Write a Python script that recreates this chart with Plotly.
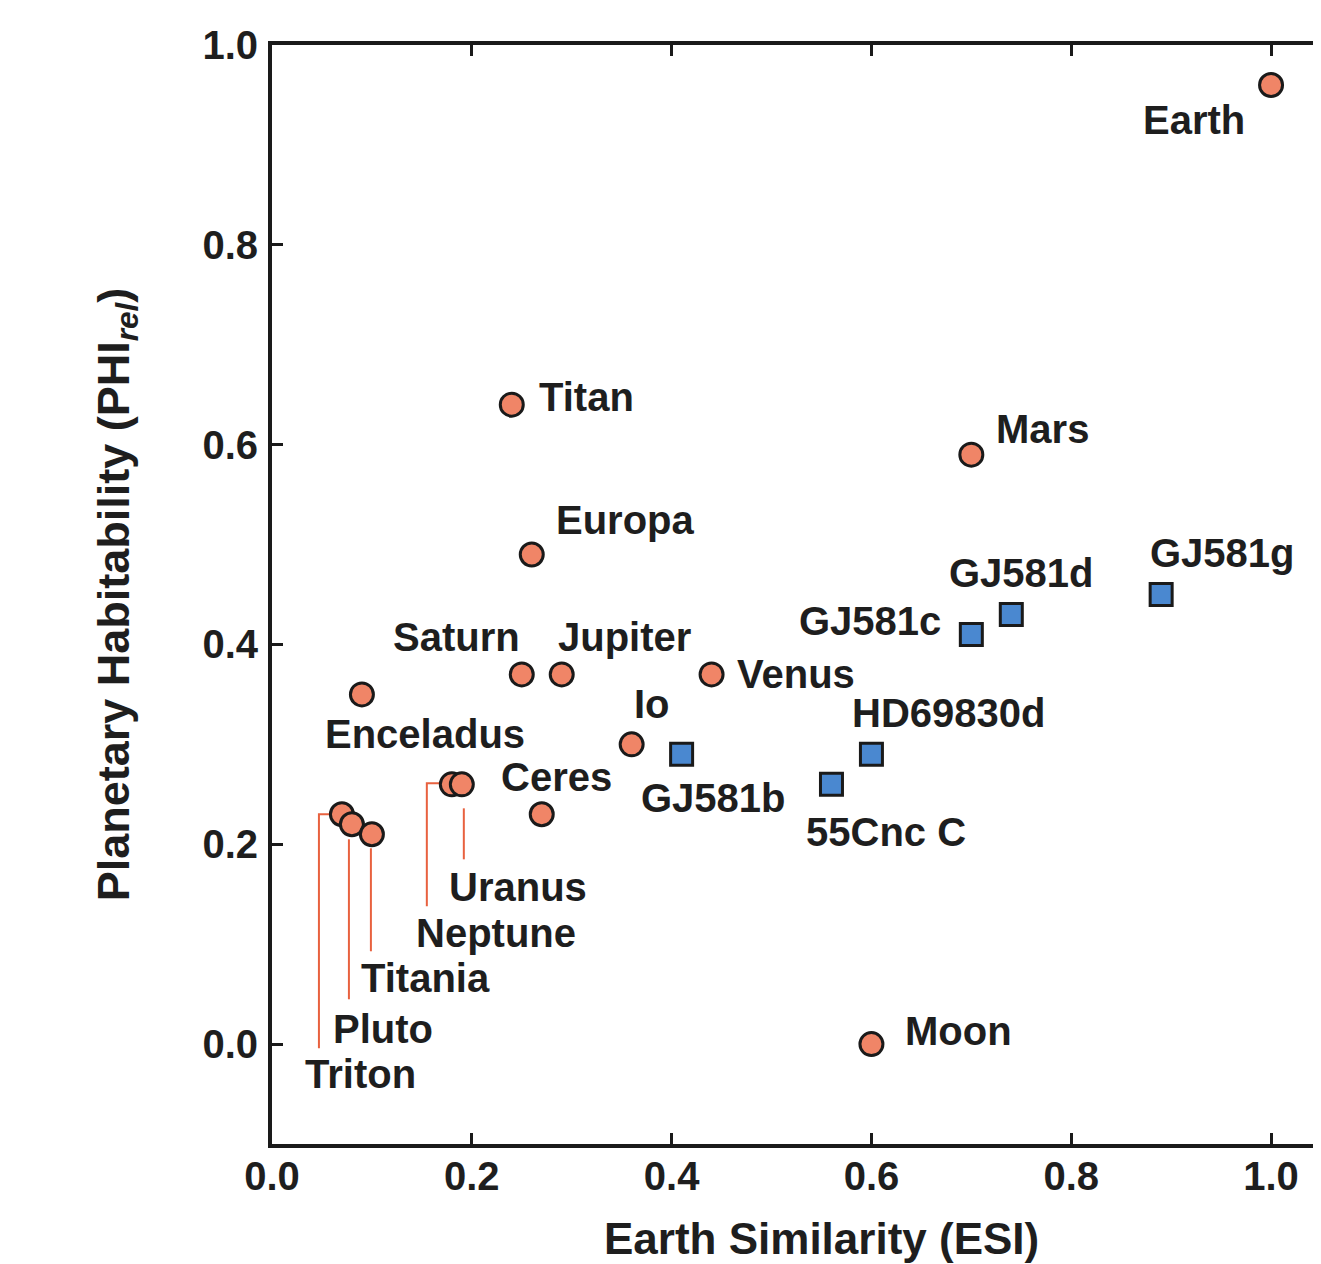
import plotly.graph_objects as go

# ---------------- data ----------------
sol_names = ["Earth", "Titan", "Europa", "Mars", "Saturn", "Jupiter", "Venus",
             "Enceladus", "Io", "Ceres", "Neptune", "Uranus", "Triton", "Pluto",
             "Titania", "Moon"]
sol_esi = [1.00, 0.24, 0.26, 0.70, 0.25, 0.29, 0.44, 0.09, 0.36, 0.27, 0.18, 0.19,
           0.07, 0.08, 0.10, 0.60]
sol_phi = [0.96, 0.64, 0.49, 0.59, 0.37, 0.37, 0.37, 0.35, 0.30, 0.23, 0.26, 0.26,
           0.23, 0.22, 0.21, 0.00]

exo_names = ["GJ581g", "GJ581d", "GJ581c", "HD69830d", "55Cnc C", "GJ581b"]
exo_esi = [0.89, 0.74, 0.70, 0.60, 0.56, 0.41]
exo_phi = [0.45, 0.43, 0.41, 0.29, 0.26, 0.29]

x_ticks = [0.0, 0.2, 0.4, 0.6, 0.8, 1.0]
y_ticks = [0.0, 0.2, 0.4, 0.6, 0.8, 1.0]

# ---------------- label styling (anchor, pixel shifts) ----------------
label_style = {
    "Earth": ("right", -24, -35),
    "Titan": ("left", 25, 8),
    "Europa": ("left", 22, 35),
    "Mars": ("left", 23, 26),
    "Saturn": ("right", 0, 37),
    "Jupiter": ("left", -6, 37),
    "Venus": ("left", 23, 0),
    "Enceladus": ("left", -39, -40),
    "Io": ("center", 20, 40),
    "Ceres": ("left", -43, 37),
    "Neptune": ("left", -38, -149),
    "Uranus": ("left", -15, -103),
    "Triton": ("left", -39, -260),
    "Pluto": ("left", -21, -205),
    "Titania": ("left", -13, -144),
    "Moon": ("left", 32, 13),
    "GJ581g": ("center", 61, 42),
    "GJ581d": ("center", 10, 41),
    "GJ581c": ("right", -28, 13),
    "HD69830d": ("center", 77, 41),
    "55Cnc C": ("center", 55, -48),
    "GJ581b": ("center", 32, -44),
}

# leader lines, pixel paths relative to the point (y up)
leader_paths = {
    "Triton": "M -11,0 L -23,0 L -23,-234",
    "Pluto": "M -3,-15 L -3,-175",
    "Titania": "M -1,-14 L -1,-117",
    "Neptune": "M -12,1 L -25,1 L -25,-122",
    "Uranus": "M 2,-24 L 2,-75",
}

FONT = "Liberation Sans, Arial, sans-serif"
TXT = "#1e1e1e"
AX = "#1a1a1a"

fig = go.Figure()
fig.add_trace(go.Scatter(
    x=sol_esi, y=sol_phi, mode="markers", name="Solar System",
    marker=dict(symbol="circle", size=23, color="#F08567",
                line=dict(color="#1a1a1a", width=3)),
    cliponaxis=False, showlegend=False))
fig.add_trace(go.Scatter(
    x=exo_esi, y=exo_phi, mode="markers", name="Exoplanets",
    marker=dict(symbol="square", size=22, color="#4A88D0",
                line=dict(color="#1a1a1a", width=3)),
    cliponaxis=False, showlegend=False))

all_names = sol_names + exo_names
all_x = sol_esi + exo_esi
all_y = sol_phi + exo_phi
for n, xv, yv in zip(all_names, all_x, all_y):
    anc, dx, dy = label_style[n]
    fig.add_annotation(x=xv, y=yv, xref="x", yref="y", text=n, showarrow=False,
                       xanchor=anc, yanchor="middle", xshift=dx, yshift=dy,
                       font=dict(family=FONT, size=40, color=TXT, weight="bold"))
    if n in leader_paths:
        fig.add_shape(type="path", xref="x", yref="y", xsizemode="pixel",
                      ysizemode="pixel", xanchor=xv, yanchor=yv,
                      path=leader_paths[n],
                      line=dict(color="#E8613F", width=2), layer="below")

fig.add_annotation(x=0.55, y=0, xref="x", yref="paper", yanchor="top",
                   yshift=-68, showarrow=False, text="Earth Similarity (ESI)",
                   font=dict(family=FONT, size=44, color=TXT, weight="bold"))

fig.update_layout(
    width=1313, height=1256,
    margin=dict(l=264, r=0, t=37, b=120),
    plot_bgcolor="white", paper_bgcolor="white",
    font=dict(family=FONT, color=TXT, weight="bold"),
    xaxis=dict(range=[0, 1.05], tickvals=x_ticks,
               ticktext=[f"{v:.1f}" for v in x_ticks],
               showgrid=False, zeroline=False, showline=True, linewidth=4,
               linecolor=AX, mirror="ticks", ticks="inside", ticklen=11,
               tickwidth=3, tickcolor=AX, ticklabelstandoff=-6,
               tickfont=dict(family=FONT, size=40, color=TXT, weight="bold")),
    yaxis=dict(range=[-0.1, 1.0], tickvals=y_ticks,
               ticktext=[f"{v:.1f}" for v in y_ticks],
               showgrid=False, zeroline=False, showline=True, linewidth=4,
               linecolor=AX, mirror=False, ticks="inside", ticklen=11,
               tickwidth=3, tickcolor=AX, ticklabelstandoff=2,
               tickfont=dict(family=FONT, size=40, color=TXT, weight="bold"),
               title=dict(text="Planetary Habitability (PHI<sub><i>rel</i></sub>)",
                          standoff=60,
                          font=dict(family=FONT, size=45, color=TXT, weight="bold"))),
)

fig.write_html("out.html")
